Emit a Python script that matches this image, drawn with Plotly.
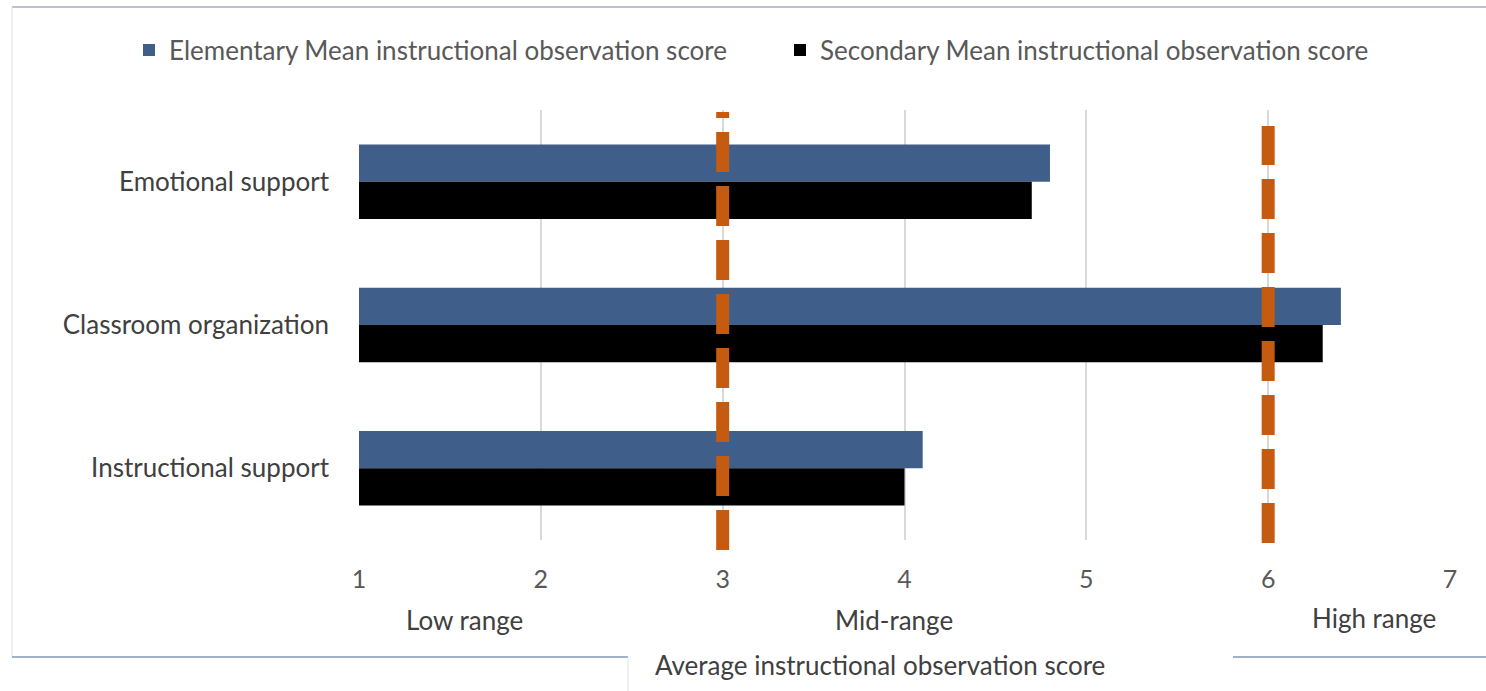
import plotly.graph_objects as go

# Observation domains, top to bottom
domains = ["Emotional support", "Classroom organization", "Instructional support"]

# Mean instructional observation scores by school level
elementary_scores = [4.8, 6.4, 4.1]
secondary_scores = [4.7, 6.3, 4.0]

series_names = [
    "Elementary Mean instructional observation score",
    "Secondary Mean instructional observation score",
]

# Cut points separating the score ranges, and the range names
range_cuts = [3, 6]
range_names = ["Low range", "Mid-range", "High range"]

x_ticks = [1, 2, 3, 4, 5, 6, 7]

BLUE = "#405E8A"
BLACK = "#000000"
ORANGE = "#C55A11"
FONT = "Lato, 'Open Sans', sans-serif"

W, H = 1486, 691
L, R, T, B = 359, 36, 110, 151
plot_w = W - L - R
plot_h = H - T - B


def px_x(px):
    return (px - L) / plot_w


def px_y(py):
    return (H - B - py) / plot_h


fig = go.Figure()
fig.add_trace(go.Bar(
    y=domains, x=elementary_scores, name=series_names[0], orientation="h",
    marker=dict(color=BLUE, line=dict(width=0)),
))
fig.add_trace(go.Bar(
    y=domains, x=secondary_scores, name=series_names[1], orientation="h",
    marker=dict(color=BLACK, line=dict(width=0)),
))

shapes = []
# Dashed markers at the range boundaries (vertical extents differ slightly)
cut_extents = {3: (550, 112), 6: (543, 126)}
for c in range_cuts:
    y_bot, y_top = cut_extents[c]
    shapes.append(dict(
        type="line", xref="x", yref="paper",
        x0=c, x1=c, y0=px_y(y_bot), y1=px_y(y_top),
        line=dict(color=ORANGE, width=13, dash="40px,14px"),
        layer="above",
    ))

# Frame lines around the chart area
frame = dict(xref="paper", yref="paper", layer="above")
shapes += [
    dict(type="line", x0=px_x(12), x1=px_x(1486), y0=px_y(7), y1=px_y(7),
         line=dict(color="#A7AEB8", width=1.5), **frame),
    dict(type="line", x0=px_x(12), x1=px_x(12), y0=px_y(7), y1=px_y(657),
         line=dict(color="#E3E3E3", width=1), **frame),
    dict(type="line", x0=px_x(12), x1=px_x(628), y0=px_y(657), y1=px_y(657),
         line=dict(color="#8597B5", width=1.5), **frame),
    dict(type="line", x0=px_x(1233), x1=px_x(1486), y0=px_y(657), y1=px_y(657),
         line=dict(color="#8597B5", width=1.5), **frame),
    dict(type="line", x0=px_x(628), x1=px_x(628), y0=px_y(657), y1=px_y(691),
         line=dict(color="#E3E3E3", width=1), **frame),
]

annotations = []
# Range names placed beneath the axis, between and beyond the cut points
range_label_x = [1.58, 3.94, 6.58]
range_label_y = [620, 620, 618]
for name, xv, yv in zip(range_names, range_label_x, range_label_y):
    annotations.append(dict(
        text=name, x=xv, y=px_y(yv), xref="x", yref="paper",
        showarrow=False, xanchor="center", yanchor="middle",
        font=dict(family=FONT, size=26, color="#404040"),
    ))

annotations.append(dict(
    text="Average instructional observation score",
    x=px_x(880), y=px_y(665), xref="paper", yref="paper",
    showarrow=False, xanchor="center", yanchor="middle",
    font=dict(family=FONT, size=26, color="#404040"),
))

fig.update_layout(
    width=W, height=H,
    margin=dict(l=L, r=R, t=T, b=B, pad=0),
    paper_bgcolor="white", plot_bgcolor="white",
    barmode="group", bargap=0.48, bargroupgap=0,
    font=dict(family=FONT, size=26, color="#595959"),
    legend=dict(
        orientation="h", x=px_x(129), xanchor="left", y=px_y(50), yanchor="middle",
        font=dict(family=FONT, size=26, color="#595959"),
        itemwidth=30, traceorder="normal", entrywidth=606,
    ),
    xaxis=dict(
        range=[1, 7], tickvals=x_ticks, showgrid=True, gridcolor="#D9D9D9",
        gridwidth=2, zeroline=False, showline=False, ticks="",
        ticklabelstandoff=22,
        tickfont=dict(family=FONT, size=25, color="#595959"),
    ),
    yaxis=dict(
        categoryorder="array", categoryarray=domains, autorange="reversed",
        showgrid=False, zeroline=False, showline=False, ticks="",
        ticklabelstandoff=29,
        tickfont=dict(family=FONT, size=26, color="#404040"),
    ),
    shapes=shapes,
    annotations=annotations,
)

fig.write_html("out.html")
